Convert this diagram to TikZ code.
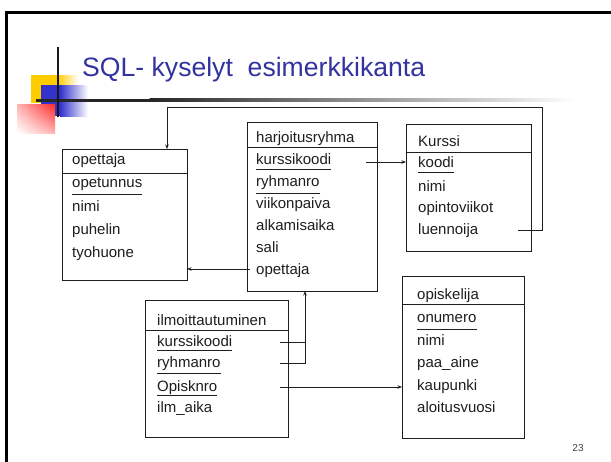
\documentclass[tikz,border=0pt]{standalone}
\usepackage{fontspec}
\setmainfont{Liberation Sans}
\usetikzlibrary{arrows.meta,shadings}
\definecolor{titleblue}{RGB}{51,51,160}
\definecolor{decoyellow}{RGB}{255,204,0}
\definecolor{decoblue}{RGB}{51,51,204}
\definecolor{decored}{RGB}{255,40,40}
\definecolor{ink}{RGB}{30,30,30}
\begin{document}
\begin{tikzpicture}[x=1pt,y=-1pt,
  box/.style={draw=ink, line width=0.8pt, inner sep=0pt, outer sep=0pt, anchor=north west},
  row/.style={anchor=west, inner sep=0pt, text height=11pt, text depth=3pt, text=ink, font=\fontsize{15}{18}\selectfont},
  uline/.style={draw=ink, line width=0.8pt},
  conn/.style={draw=ink, line width=0.7pt},
  arr/.style={conn, -{Stealth[length=4.5pt,width=3.5pt]}}
]
\useasboundingbox (0,0) rectangle (611,461);
\clip (0,0) rectangle (611,461);
\fill[white] (0,0) rectangle (611,461);
% slide frame
\draw[line width=3pt, black] (6,12) rectangle (640,490);
% decoration
\fill[decoyellow] (31,75) rectangle (58,103);
\shade[left color=decoyellow, right color=white] (58,75) rectangle (78,103);
\fill[decoblue] (41,85) rectangle (60,116);
\shade[left color=decoblue, right color=white] (60,85) rectangle (88,116);
\shade[upper right=decored, lower left=white, upper left=decored!35!white, lower right=decored!35!white] (17,104) rectangle (55,133);
\fill[black!85] (36,98.5) rectangle (150,101.5);
\shade[left color=black!85, right color=white] (149.5,98.5) rectangle (575,101.5);
\fill[black!90] (56.8,47) rectangle (59.2,117);
% title
\node[anchor=base west, inner sep=0pt, text=titleblue, font=\fontsize{26.6}{30}\selectfont] (title) at (82,76.5) {SQL- kyselyt\ \ esimerkkikanta};
% page number
\node[inner sep=0pt, text=black!75, font=\fontsize{10}{12}\selectfont] (pnum) at (578,448) {23};

% ---- opettaja
\node[box, minimum width=125pt, minimum height=131pt] (tOpe) at (62,149) {};
\draw[conn] ([yshift=-24pt]tOpe.north west) -- ([yshift=-24pt]tOpe.north east);
\node[row] (ope0) at (72,160) {opettaja};
\node[row] (ope1) at (72,183) {opetunnus};
\node[row] (ope2) at (72,207) {nimi};
\node[row] (ope3) at (72,230) {puhelin};
\node[row] (ope4) at (72,253) {tyohuone};
\draw[uline] ([yshift=-4pt]ope1.south west) -- ([yshift=-4pt]ope1.south east);

% ---- harjoitusryhma
\node[box, minimum width=130pt, minimum height=169pt] (tHar) at (247,122) {};
\draw[conn] ([yshift=-25pt]tHar.north west) -- ([yshift=-25pt]tHar.north east);
\node[row] (har0) at (256,138) {harjoitusryhma};
\node[row] (har1) at (256,160) {kurssikoodi};
\node[row] (har2) at (256,182) {ryhmanro};
\node[row] (har3) at (256,204) {viikonpaiva};
\node[row] (har4) at (256,226) {alkamisaika};
\node[row] (har5) at (256,248) {sali};
\node[row] (har6) at (256,270) {opettaja};
\draw[uline] ([yshift=-2pt]har1.south west) -- ([yshift=-2pt]har1.south east);
\draw[uline] ([yshift=-4pt]har2.south west) -- ([yshift=-4pt]har2.south east);

% ---- Kurssi
\node[box, minimum width=125pt, minimum height=127pt] (tKur) at (406,124) {};
\draw[conn] ([yshift=-28pt]tKur.north west) -- ([yshift=-28pt]tKur.north east);
\node[row] (kur0) at (418,142) {Kurssi};
\node[row] (kur1) at (418,163) {koodi};
\node[row] (kur2) at (418,187) {nimi};
\node[row] (kur3) at (418,208) {opintoviikot};
\node[row] (kur4) at (418,230) {luennoija};
\draw[uline] ([yshift=-2pt]kur1.south west) -- ([yshift=-2pt]kur1.south east);

% ---- opiskelija
\node[box, minimum width=122pt, minimum height=162pt] (tOpi) at (402,276) {};
\draw[conn] ([yshift=-28pt]tOpi.north west) -- ([yshift=-28pt]tOpi.north east);
\node[row] (opi0) at (417,295) {opiskelija};
\node[row] (opi1) at (417,318) {onumero};
\node[row] (opi2) at (417,341) {nimi};
\node[row] (opi3) at (417,363) {paa\_aine};
\node[row] (opi4) at (417,386) {kaupunki};
\node[row] (opi5) at (417,408) {aloitusvuosi};
\draw[uline] ([yshift=-4pt]opi1.south west) -- ([yshift=-4pt]opi1.south east);

% ---- ilmoittautuminen
\node[box, minimum width=143pt, minimum height=137pt] (tIlm) at (145,300) {};
\draw[conn] ([yshift=-30pt]tIlm.north west) -- ([yshift=-30pt]tIlm.north east);
\node[row] (ilm0) at (157,321) {ilmoittautuminen};
\node[row] (ilm1) at (157,342) {kurssikoodi};
\node[row] (ilm2) at (157,363) {ryhmanro};
\node[row] (ilm3) at (157,387) {Opisknro};
\node[row] (ilm4) at (157,408) {ilm\_aika};
\draw[uline] ([yshift=-1.5pt]ilm1.south west) -- ([yshift=-1.5pt]ilm1.south east);
\draw[uline] ([yshift=-3pt]ilm2.south west) -- ([yshift=-3pt]ilm2.south east);
\draw[uline] ([yshift=-1.5pt]ilm3.south west) -- ([yshift=-1.5pt]ilm3.south east);

% ---- connectors
\coordinate (luS) at (518,230);
\coordinate (kTR) at (542,107);
\coordinate (kTL) at (167,107);
\draw[arr] (luS) -| (kTR) -- (kTL) -- (kTL |- tOpe.north);

\coordinate (hOpS) at (250,269);
\draw[arr] (hOpS) -- (hOpS -| tOpe.east);

\coordinate (hKkS) at (366,162);
\draw[arr] (hKkS) -- (hKkS -| tKur.west);

\coordinate (iKkS) at (280,342);
\coordinate (iRnS) at (280,363);
\coordinate (iJ1) at (305,342);
\coordinate (iJ2) at (305,363);
\draw[conn] (iKkS) -- (iJ1);
\draw[arr] (iRnS) -- (iJ2) -- (iJ2 |- tHar.south);

\coordinate (iOnS) at (280,387);
\draw[arr] (iOnS) -- (iOnS -| tOpi.west);
\end{tikzpicture}
\end{document}
